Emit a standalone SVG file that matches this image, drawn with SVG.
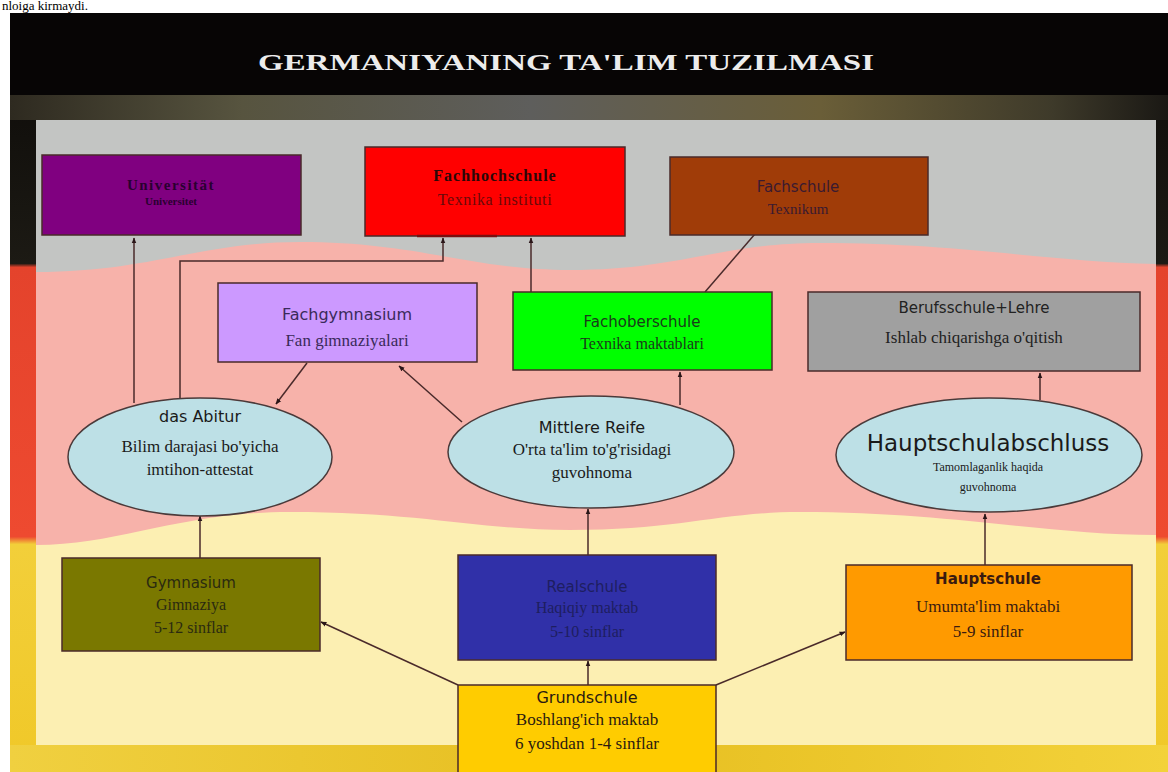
<svg xmlns="http://www.w3.org/2000/svg" width="1168" height="772" viewBox="0 0 1168 772">
<defs>
<linearGradient id="frameG" gradientUnits="userSpaceOnUse" x1="0" y1="13" x2="0" y2="772">
<stop offset="0" stop-color="#0a0806"/><stop offset="0.33" stop-color="#1c1a14"/>
<stop offset="0.335" stop-color="#e4432c"/><stop offset="0.69" stop-color="#ee4a30"/>
<stop offset="0.70" stop-color="#f2cf3a"/><stop offset="1" stop-color="#f0c828"/>
</linearGradient>
<linearGradient id="bandG" x1="0" y1="0" x2="1" y2="0">
<stop offset="0" stop-color="#2e2a20"/><stop offset="0.2" stop-color="#57543f"/><stop offset="0.45" stop-color="#5e5e5c"/>
<stop offset="0.7" stop-color="#6a5e38"/><stop offset="0.9" stop-color="#3e3a2a"/><stop offset="1" stop-color="#1a1814"/>
</linearGradient>
<linearGradient id="bottomG" x1="0" y1="0" x2="1" y2="0">
<stop offset="0" stop-color="#f0d040"/><stop offset="0.5" stop-color="#e6be20"/><stop offset="1" stop-color="#f3d23a"/>
</linearGradient>
<marker id="arr" viewBox="0 0 10 10" refX="9" refY="5" markerWidth="6" markerHeight="6" orient="auto" markerUnits="userSpaceOnUse">
<path d="M0,1 L10,5 L0,9 Z" fill="#2a1618"/>
</marker>
<style>
.box{stroke:#4a2a2a;stroke-width:1.5}
.ell{fill:#bde0e6;stroke:#4a3a3a;stroke-width:1.5}
.sans{font-family:"DejaVu Sans","Liberation Sans",sans-serif;text-anchor:middle}
.serif{font-family:"Liberation Serif","Times New Roman",serif;text-anchor:middle}
.con{fill:none;stroke:#4a2a2a;stroke-width:1.5;marker-end:url(#arr)}
</style>
</defs>
<rect width="1168" height="772" fill="#ffffff"/>
<!-- frame -->
<rect x="10" y="13" width="1158" height="759" fill="url(#frameG)"/>
<rect x="10" y="13" width="1158" height="82" fill="#070505"/>
<rect x="10" y="95" width="1158" height="25" fill="url(#bandG)"/>
<rect x="10" y="745" width="1158" height="27" fill="url(#bottomG)"/>
<text x="2" y="10" font-family="Liberation Serif, serif" font-size="13" fill="#000">nloiga kirmaydi.</text>
<!-- panel -->
<rect x="36" y="120" width="1120" height="625" fill="#c3c5c3"/>
<path d="M36,272 C150,272 200,242 300,242 C420,242 470,270 570,270 C680,270 720,243 820,243 C960,243 1050,262 1156,264 L1156,745 L36,745 Z" fill="#f7b2aa"/>
<path d="M36,545 C120,545 180,512 290,512 C420,512 480,530 570,530 C680,530 720,512 800,512 C950,512 1050,535 1156,535 L1156,745 L36,745 Z" fill="#fcefb2"/>
<text x="566" y="70" font-family="Liberation Serif, serif" font-weight="bold" font-size="24" fill="#ececec" text-anchor="middle" textLength="616" lengthAdjust="spacingAndGlyphs">GERMANIYANING TA'LIM TUZILMASI</text>

<g id="connectors">
<path class="con" d="M134,403 L134,238"/>
<path class="con" d="M180,398 L180,261 L443,261 L443,238"/>
<path class="con" d="M531,292 L531,238"/>
<path class="con" d="M705,292 L761,227"/>
<path class="con" d="M307,363 L276,404"/>
<path class="con" d="M462,422 L399,366"/>
<path class="con" d="M680,405 L680,372"/>
<path class="con" d="M1040,400 L1040,373"/>
<path class="con" d="M200,558 L200,516"/>
<path class="con" d="M588,555 L588,509"/>
<path class="con" d="M985,565 L985,514"/>
<path class="con" d="M458,685 L321,622"/>
<path class="con" d="M588,685 L588,661"/>
<path class="con" d="M716,685 L845,632"/>
</g>

<g id="universitat">
<rect class="box" x="42" y="155" width="259" height="80" fill="#800080"/>
<text class="serif" x="171" y="190" font-size="15" font-weight="bold" letter-spacing="1.5" fill="#2a0030">Universität</text>
<text class="serif" x="171" y="205" font-size="11" font-weight="bold" fill="#2a0030">Universitet</text>
</g>
<g id="fachhochschule">
<rect class="box" x="365" y="147" width="260" height="89" fill="#ff0000"/>
<line x1="417" y1="236" x2="497" y2="236" stroke="#7a1010" stroke-width="2.5"/>
<text class="serif" x="495" y="181" font-size="16" font-weight="bold" letter-spacing="1" fill="#2a0808">Fachhochschule</text>
<text class="serif" x="495" y="205" font-size="16" letter-spacing="0.6" fill="#6a0a0a">Texnika instituti</text>
</g>
<g id="fachschule">
<rect class="box" x="670" y="157" width="258" height="78" fill="#a03c08"/>
<text class="sans" x="798" y="192" font-size="15" fill="#3a1a30">Fachschule</text>
<text class="serif" x="798" y="214" font-size="15" fill="#3a1a30">Texnikum</text>
</g>
<g id="fachgymnasium">
<rect class="box" x="218" y="283" width="259" height="79" fill="#cc99ff"/>
<text class="sans" x="347" y="320" font-size="16" fill="#3a2a5a">Fachgymnasium</text>
<text class="serif" x="347" y="346" font-size="17" fill="#3a2a5a">Fan gimnaziyalari</text>
</g>
<g id="fachoberschule">
<rect class="box" x="513" y="292" width="259" height="78" fill="#00ff00"/>
<text class="sans" x="642" y="327" font-size="15" fill="#1a3a1a">Fachoberschule</text>
<text class="serif" x="642" y="349" font-size="16" fill="#1a3a1a">Texnika maktablari</text>
</g>
<g id="berufsschule">
<rect class="box" x="808" y="292" width="332" height="79" fill="#a0a0a0"/>
<text class="sans" x="974" y="313" font-size="15" fill="#222222">Berufsschule+Lehre</text>
<text class="serif" x="974" y="343" font-size="17" fill="#222222">Ishlab chiqarishga o'qitish</text>
</g>
<g id="abitur">
<ellipse class="ell" cx="200" cy="457" rx="132" ry="59"/>
<text class="sans" x="200" y="422" font-size="16" fill="#1a1a1a">das Abitur</text>
<text class="serif" x="200" y="452" font-size="17" fill="#1a1a1a">Bilim darajasi bo'yicha</text>
<text class="serif" x="200" y="475" font-size="17" fill="#1a1a1a">imtihon-attestat</text>
</g>
<g id="mittlere">
<ellipse class="ell" cx="591" cy="452" rx="143" ry="56"/>
<text class="sans" x="592" y="433" font-size="16" fill="#1a1a1a">Mittlere Reife</text>
<text class="serif" x="592" y="455" font-size="17" fill="#1a1a1a">O'rta ta'lim to'g'risidagi</text>
<text class="serif" x="592" y="478" font-size="17" fill="#1a1a1a">guvohnoma</text>
</g>
<g id="hauptschulabschluss">
<ellipse class="ell" cx="989" cy="455" rx="153" ry="57"/>
<text class="sans" x="988" y="451" font-size="23" fill="#1a1a1a">Hauptschulabschluss</text>
<text class="serif" x="988" y="471" font-size="12" fill="#1a1a1a">Tamomlaganlik haqida</text>
<text class="serif" x="988" y="491" font-size="12" fill="#1a1a1a">guvohnoma</text>
</g>
<g id="gymnasium">
<rect class="box" x="62" y="558" width="258" height="93" fill="#7a7800"/>
<text class="sans" x="191" y="588" font-size="15" fill="#2a2a10">Gymnasium</text>
<text class="serif" x="191" y="610" font-size="16" fill="#2a2a10">Gimnaziya</text>
<text class="serif" x="191" y="633" font-size="16" fill="#2a2a10">5-12 sinflar</text>
</g>
<g id="realschule">
<rect class="box" x="458" y="555" width="258" height="105" fill="#3030a8"/>
<text class="sans" x="587" y="592" font-size="15" fill="#1e1e60">Realschule</text>
<text class="serif" x="587" y="613" font-size="16" fill="#1e1e60">Haqiqiy maktab</text>
<text class="serif" x="587" y="637" font-size="16" fill="#1e1e60">5-10 sinflar</text>
</g>
<g id="hauptschule">
<rect class="box" x="846" y="565" width="286" height="95" fill="#ff9a00"/>
<text class="sans" x="988" y="584" font-size="15" font-weight="bold" fill="#3a1a10">Hauptschule</text>
<text class="serif" x="988" y="612" font-size="17" fill="#3a1a10">Umumta'lim maktabi</text>
<text class="serif" x="988" y="637" font-size="17" fill="#3a1a10">5-9 sinflar</text>
</g>
<g id="grundschule">
<rect class="box" x="458" y="685" width="258" height="90" fill="#ffcc00"/>
<text class="sans" x="587" y="703" font-size="16" fill="#2a1a10">Grundschule</text>
<text class="serif" x="587" y="725" font-size="17" fill="#2a1a10">Boshlang'ich maktab</text>
<text class="serif" x="587" y="749" font-size="17" fill="#2a1a10">6 yoshdan 1-4 sinflar</text>
</g>
</svg>
